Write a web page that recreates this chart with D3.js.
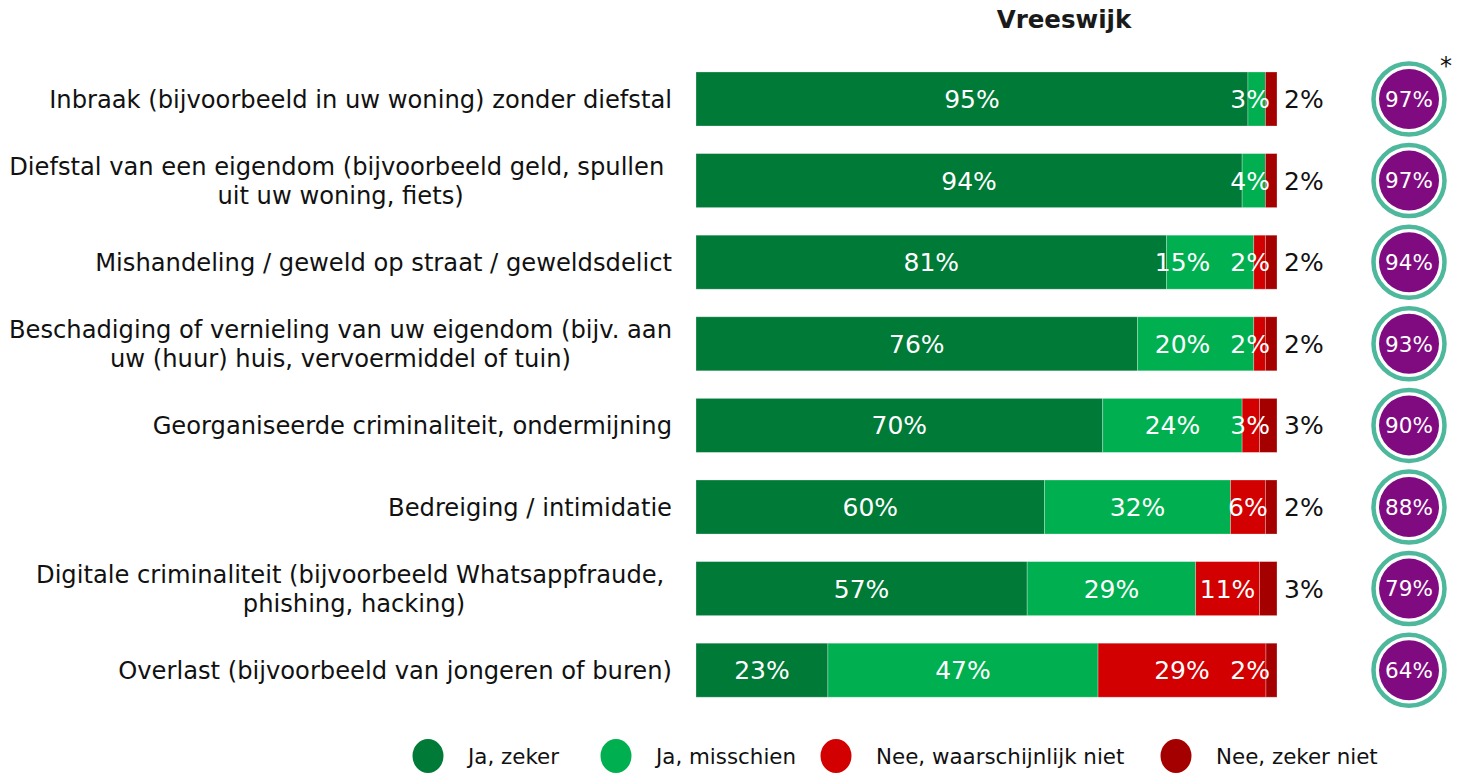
<!DOCTYPE html>
<html>
<head>
<meta charset="utf-8">
<script src="https://cdn.jsdelivr.net/npm/d3@7"></script>
<style>
  html, body { margin: 0; padding: 0; background: #ffffff; }
  svg { display: block; }
  text { font-family: "DejaVu Sans", Verdana, sans-serif; }
</style>
</head>
<body>
<svg id="chart" width="1461" height="774"></svg>
<script>
// ---------- data ----------
const title = "Vreeswijk";
const categories = [
  ["Inbraak (bijvoorbeeld in uw woning) zonder diefstal"],
  ["Diefstal van een eigendom (bijvoorbeeld geld, spullen ", "uit uw woning, fiets)"],
  ["Mishandeling / geweld op straat / geweldsdelict"],
  ["Beschadiging of vernieling van uw eigendom (bijv. aan", "uw (huur) huis, vervoermiddel of tuin)"],
  ["Georganiseerde criminaliteit, ondermijning"],
  ["Bedreiging / intimidatie"],
  ["Digitale criminaliteit (bijvoorbeeld Whatsappfraude, ", "phishing, hacking)"],
  ["Overlast (bijvoorbeeld van jongeren of buren)"]
];
const seriesNames = ["Ja, zeker", "Ja, misschien", "Nee, waarschijnlijk niet", "Nee, zeker niet"];
const jaZeker      = [95, 94, 81, 76, 70, 60, 57, 22.7];
const jaMisschien  = [3, 4, 15, 20, 24, 32, 29, 46.5];
const neeWaarsch   = [0, 0, 2, 2, 3, 6, 11, 28.9];
const neeZekerNiet = [2, 2, 2, 2, 3, 2, 3, 1.9];
const circleValues = [97, 97, 94, 93, 90, 88, 79, 64];
const colors = ["#007a37", "#00b050", "#d20000", "#a50000"];

// ---------- layout ----------
const svg = d3.select("#chart");
const FS_CAT = 24.2, FS_BAR = 25, FS_LEG = 21.4, FS_CIRC = 21.5;
const x = d3.scaleLinear().domain([0, 100]).range([696, 1277]);
const y = d3.scaleBand().domain(d3.range(categories.length)).range([44.4, 724.8]).padding(0.338);
const legendX = d3.scaleOrdinal().domain(seriesNames).range([428, 616, 836, 1176]);

const series = [jaZeker, jaMisschien, neeWaarsch, neeZekerNiet];
const rows = categories.map((c, i) => {
  let cum = 0;
  const segs = series.map((s, k) => {
    const seg = { k, v: s[i], x0: cum, x1: cum + s[i] };
    cum += s[i];
    return seg;
  });
  return { i, segs };
});

// title
svg.append("text").attr("x", 1064).attr("y", 28).attr("text-anchor", "middle")
  .attr("font-size", 24.5).attr("font-weight", "bold").attr("fill", "#1a1a1a").text(title);

// category labels
const labelRight = 672;
const lblG = svg.append("g");
categories.forEach((lines, i) => {
  const cy = y(i) + y.bandwidth() / 2;
  const g = lblG.append("g");
  const lh = 29;
  const tmp = lines.map((ln, j) => g.append("text")
    .attr("font-size", FS_CAT).attr("fill", "#111").attr("xml:space", "preserve")
    .style("white-space", "pre")
    .attr("y", cy + (j - (lines.length - 1) / 2) * lh).attr("dy", "0.36em").text(ln));
  const widths = tmp.map(t => t.node().getComputedTextLength());
  const maxW = d3.max(widths);
  const center = labelRight - maxW / 2;
  tmp.forEach(t => t.attr("x", center).attr("text-anchor", "middle"));
});

// bars
const barG = svg.append("g");
rows.forEach(r => {
  const yy = y(r.i), h = y.bandwidth();
  barG.selectAll(null).data(r.segs.filter(s => s.v > 0)).join("rect")
    .attr("x", s => x(s.x0)).attr("y", yy)
    .attr("width", s => x(s.x1) - x(s.x0)).attr("height", h)
    .attr("fill", s => colors[s.k])
    .attr("stroke", "rgba(255,255,255,0.35)").attr("stroke-width", 0.8);
});

// bar labels
const measure = svg.append("text").attr("font-size", FS_BAR).attr("opacity", 0);
function tw(str) { measure.text(str); return measure.node().getComputedTextLength(); }

rows.forEach(r => {
  const cy = y(r.i) + y.bandwidth() / 2;
  const segs = r.segs.filter(s => s.v > 0);
  const last = segs[segs.length - 1];
  const prev = segs[segs.length - 2];
  const outside = (x(prev.x1) - x(prev.x0)) < 100;
  const inside = outside ? segs.slice(0, -1) : segs;
  let limit = x(100) - 7;
  const placed = [];
  for (let j = inside.length - 1; j >= 0; j--) {
    const s = inside[j];
    const t = Math.round(s.v) + "%";
    const w = tw(t);
    const c = (x(s.x0) + x(s.x1)) / 2;
    const px = Math.min(c, limit - w / 2);
    limit = px - w / 2 - 20;
    placed.push({ t, px });
  }
  svg.append("g").selectAll("text").data(placed).join("text")
    .attr("x", d => d.px).attr("y", cy).attr("dy", "0.36em")
    .attr("text-anchor", "middle").attr("font-size", FS_BAR).attr("fill", "#fff")
    .text(d => d.t);
  if (outside) {
    svg.append("text").attr("x", x(100) + 7).attr("y", cy).attr("dy", "0.36em")
      .attr("font-size", FS_BAR).attr("fill", "#111").text(Math.round(last.v) + "%");
  }
});

// circles
const cx = 1409;
const cG = svg.append("g");
circleValues.forEach((v, i) => {
  const cy = y(i) + y.bandwidth() / 2;
  cG.append("circle").attr("cx", cx).attr("cy", cy).attr("r", 35.5)
    .attr("fill", "#fff").attr("stroke", "#4db89c").attr("stroke-width", 4.5);
  cG.append("circle").attr("cx", cx).attr("cy", cy).attr("r", 30).attr("fill", "#800a80");
  cG.append("text").attr("x", cx).attr("y", cy).attr("dy", "0.36em").attr("text-anchor", "middle")
    .attr("font-size", FS_CIRC).attr("fill", "#fff").text(v + "%");
});
svg.append("text").attr("x", 1446).attr("y", 74).attr("text-anchor", "middle")
  .attr("font-size", 24).attr("fill", "#111").text("*");

// legend
const legG = svg.append("g");
const ly = 756;
seriesNames.forEach((n, k) => {
  const lx = legendX(n);
  legG.append("ellipse").attr("cx", lx).attr("cy", ly).attr("rx", 15.5).attr("ry", 17).attr("fill", colors[k]);
  legG.append("text").attr("x", lx + 40).attr("y", ly).attr("dy", "0.36em")
    .attr("font-size", FS_LEG).attr("fill", "#111").text(n);
});
measure.remove();
</script>
</body>
</html>
